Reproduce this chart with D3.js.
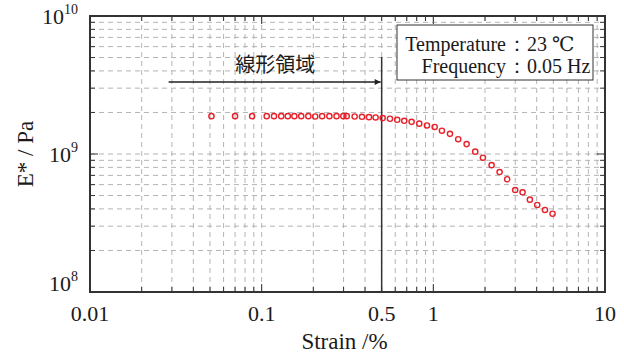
<!DOCTYPE html>
<html>
<head>
<meta charset="utf-8">
<script src="https://cdn.jsdelivr.net/npm/d3@7"></script>
<style>
  body { margin: 0; background: #fff; }
  text { font-family: "Liberation Serif", "DejaVu Serif", serif; fill: #1a1a1a; }
</style>
</head>
<body>
<div id="chart"></div>
<script>
// Strain (%) and complex modulus E* (Pa)
let strain = [0.051, 0.070, 0.088, 0.107, 0.118, 0.130, 0.142, 0.155, 0.170, 0.187,
              0.205, 0.225, 0.248, 0.273, 0.299, 0.313, 0.348, 0.384, 0.422, 0.461,
              0.507, 0.559, 0.616, 0.677, 0.747, 0.828, 0.918, 1.018, 1.122, 1.25,
              1.396, 1.563, 1.754, 1.945, 2.185, 2.432, 2.693, 2.998, 3.31, 3.65,
              4.03, 4.47, 4.95];
let modulus = [1.88e9, 1.88e9, 1.88e9, 1.88e9, 1.88e9, 1.88e9, 1.88e9, 1.88e9, 1.88e9, 1.88e9,
               1.87e9, 1.88e9, 1.88e9, 1.88e9, 1.88e9, 1.88e9, 1.87e9, 1.86e9, 1.85e9, 1.84e9,
               1.82e9, 1.80e9, 1.77e9, 1.74e9, 1.71e9, 1.66e9, 1.61e9, 1.57e9, 1.475e9, 1.40e9,
               1.28e9, 1.18e9, 1.04e9, 9.4e8, 8.3e8, 7.4e8, 6.56e8, 5.48e8, 5.28e8, 4.67e8,
               4.27e8, 3.93e8, 3.69e8];
let xTickVals = [0.01, 0.1, 0.5, 1, 10];
let xTickText = ['0.01', '0.1', '0.5', '1', '10'];
let yTickExp = [8, 9, 10];
let limitStrain = 0.5;

let svgWidth = 624;
let svgHeight = 353;
let margins = { top: 16, bottom: 61, left: 90, right: 19 };
let chartWidth = svgWidth - margins.left - margins.right;
let chartHeight = svgHeight - margins.top - margins.bottom;

let svg = d3.select('#chart').append('svg')
    .attr('width', svgWidth)
    .attr('height', svgHeight);
let chart = svg.append('g')
    .attr('transform', `translate(${margins.left}, ${margins.top})`);

let xScale = d3.scaleLog().domain([0.01, 10]).range([0, chartWidth]);
let yScale = d3.scaleLog().domain([1e8, 1e10]).range([chartHeight, 0]);

// minor + major positions for grid and ticks
let xGrid = [];
[0.01, 0.1, 1].forEach(d => { for (let k = 1; k <= 9; k++) xGrid.push(d * k); });
let yGrid = [];
[1e8, 1e9].forEach(d => { for (let k = 1; k <= 9; k++) yGrid.push(d * k); });

// Dashed grid
chart.append('g').selectAll('line.vg')
    .data(xGrid.slice(1)).enter()
    .append('line')
    .attr('x1', d => xScale(d)).attr('x2', d => xScale(d))
    .attr('y1', 0).attr('y2', chartHeight)
    .attr('stroke', '#b4b4b4').attr('stroke-width', 1)
    .attr('stroke-dasharray', '5,4');
chart.append('g').selectAll('line.hg')
    .data(yGrid.slice(1)).enter()
    .append('line')
    .attr('x1', 0).attr('x2', chartWidth)
    .attr('y1', d => yScale(d)).attr('y2', d => yScale(d))
    .attr('stroke', '#b4b4b4').attr('stroke-width', 1)
    .attr('stroke-dasharray', '5,4');

// Inward ticks on all four sides
let tickLen = d => (Math.abs(Math.log10(d) - Math.round(Math.log10(d))) < 1e-6 ? 8 : 5);
let ticks = chart.append('g').attr('stroke', '#333').attr('stroke-width', 1);
ticks.selectAll('line.bt').data(xGrid.slice(1)).enter().append('line')
    .attr('x1', d => xScale(d)).attr('x2', d => xScale(d))
    .attr('y1', chartHeight).attr('y2', d => chartHeight - tickLen(d));
ticks.selectAll('line.tt').data(xGrid.slice(1)).enter().append('line')
    .attr('x1', d => xScale(d)).attr('x2', d => xScale(d))
    .attr('y1', 0).attr('y2', d => tickLen(d));
ticks.selectAll('line.lt').data(yGrid.slice(1)).enter().append('line')
    .attr('y1', d => yScale(d)).attr('y2', d => yScale(d))
    .attr('x1', 0).attr('x2', d => tickLen(d));
ticks.selectAll('line.rt').data(yGrid.slice(1)).enter().append('line')
    .attr('y1', d => yScale(d)).attr('y2', d => yScale(d))
    .attr('x1', chartWidth).attr('x2', d => chartWidth - tickLen(d));

// x tick labels
chart.append('g').selectAll('text.xl')
    .data(xTickVals).enter()
    .append('text')
    .attr('x', d => xScale(d))
    .attr('y', chartHeight + 29)
    .attr('text-anchor', 'middle')
    .style('font-size', '22px')
    .text((d, i) => xTickText[i]);

// y tick labels 10^n
let yLab = chart.append('g').selectAll('text.yl')
    .data(yTickExp).enter()
    .append('text')
    .attr('x', -12)
    .attr('y', d => yScale(Math.pow(10, d)) + (d === 8 ? -1 : 8))
    .attr('text-anchor', 'end')
    .style('font-size', '22px');
yLab.append('tspan').text('10');
yLab.append('tspan').attr('dy', -10).style('font-size', '14px').text(d => d);

// axis titles
chart.append('text')
    .attr('x', chartWidth / 2 - 3)
    .attr('y', chartHeight + 57)
    .attr('text-anchor', 'middle')
    .style('font-size', '23px')
    .text('Strain /%');
chart.append('text')
    .attr('transform', `translate(${-57}, ${chartHeight / 2}) rotate(-90)`)
    .attr('text-anchor', 'middle')
    .style('font-size', '23px')
    .text('E* / Pa');

// Linear region limit and arrow
chart.append('line')
    .attr('x1', xScale(limitStrain)).attr('x2', xScale(limitStrain))
    .attr('y1', 41).attr('y2', chartHeight)
    .attr('stroke', '#333').attr('stroke-width', 1.5);
svg.append('defs').append('marker')
    .attr('id', 'arrow')
    .attr('viewBox', '0 0 10 10')
    .attr('refX', 10).attr('refY', 5)
    .attr('markerWidth', 9).attr('markerHeight', 6)
    .attr('markerUnits', 'userSpaceOnUse')
    .attr('orient', 'auto')
    .append('path').attr('d', 'M0,0 L10,5 L0,10 Z').attr('fill', '#222');
chart.append('line')
    .attr('x1', xScale(0.0287)).attr('x2', xScale(limitStrain) - 1)
    .attr('y1', 66).attr('y2', 66)
    .attr('stroke', '#222').attr('stroke-width', 1.5)
    .attr('marker-end', 'url(#arrow)');
chart.append('text')
    .attr('x', xScale(0.12))
    .attr('y', 56)
    .attr('text-anchor', 'middle')
    .style('font-family', '"Noto Sans CJK JP", sans-serif')
    .style('font-size', '20px')
    .text('線形領域');

// Data points
chart.append('g').selectAll('circle')
    .data(strain).enter()
    .append('circle')
    .attr('cx', d => xScale(d))
    .attr('cy', (d, i) => yScale(modulus[i]))
    .attr('r', 2.6)
    .attr('fill', 'none')
    .attr('stroke', '#e8202a')
    .attr('stroke-width', 1.4);

// Condition box
let box = chart.append('g');
box.append('rect')
    .attr('x', 307).attr('y', 9)
    .attr('width', 196).attr('height', 55)
    .attr('fill', '#fff').attr('stroke', '#333').attr('stroke-width', 1);
let condLabels = ['Temperature', 'Frequency'];
let condValues = ['23 ℃', '0.05 Hz'];
condLabels.forEach((lab, i) => {
    let y = 35 + i * 22;
    box.append('text').attr('x', 416).attr('y', y).attr('text-anchor', 'end')
        .style('font-size', '20px').text(lab);
    box.append('text').attr('x', 427).attr('y', y).attr('text-anchor', 'middle')
        .style('font-size', '20px').text('：');
    box.append('text').attr('x', 437).attr('y', y)
        .style('font-size', '20px').text(condValues[i]);
});

// Frame
chart.append('rect')
    .attr('x', 0).attr('y', 0)
    .attr('width', chartWidth).attr('height', chartHeight)
    .attr('fill', 'none').attr('stroke', '#333').attr('stroke-width', 2);
</script>
</body>
</html>
